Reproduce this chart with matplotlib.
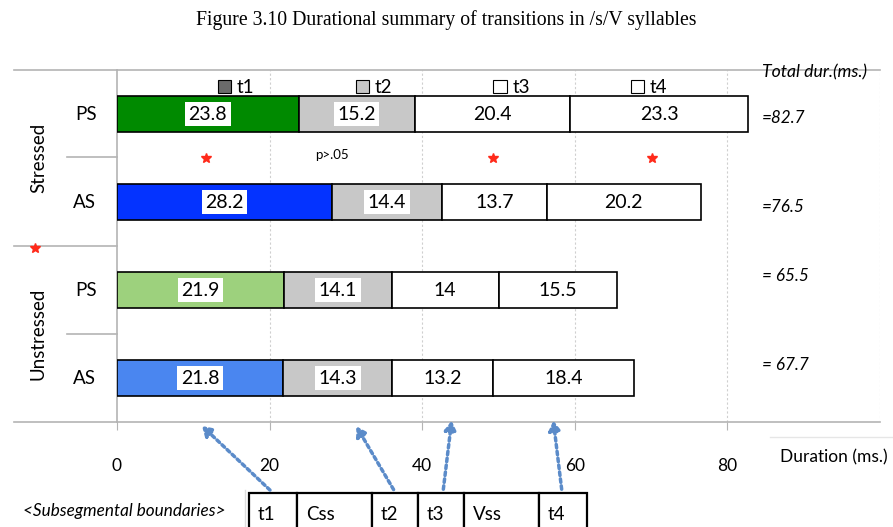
import matplotlib
matplotlib.use('Agg')
import matplotlib.pyplot as plt
from matplotlib.patches import Patch, Rectangle, FancyArrowPatch
from matplotlib.lines import Line2D

# ---------------- data ----------------
groups = ['Stressed', 'Unstressed']
categories = ['PS', 'AS', 'PS', 'AS']          # top to bottom
segments = ['t1', 't2', 't3', 't4']
t1 = [23.8, 28.2, 21.9, 21.8]
t2 = [15.2, 14.4, 14.1, 14.3]
t3 = [20.4, 13.7, 14, 13.2]
t4 = [23.3, 20.2, 15.5, 18.4]
totals = ['=82.7', '=76.5', '= 65.5', '= 67.7']
sig_x = [11.7, 49.3, 70.1]      # positions of significance stars
ns_x = 28.2                     # position of "p>.05"
xticks = [0, 20, 40, 60, 80]
boundary_labels = ['t1', 'Css', 't2', 't3', 'Vss', 't4']

# ---------------- style ----------------
t1_colors = ['#008a00', '#0433ff', '#9dd17d', '#4a86f0']
seg_colors = [None, '#c8c8c8', 'white', 'white']
legend_colors = ['#6b6b6b', '#c8c8c8', 'white', 'white']
total_dy = [-0.05, -0.06, 0.16, 0.15]
arrow_col = '#5b8bc9'
grey = '#b4b4b4'
SANS = 'Lato'

W, H = 893, 527
fig = plt.figure(figsize=(W / 100, H / 100), dpi=100)
L, R, T, B = 117, 880, 70, 422
ax = fig.add_axes([L / W, 1 - B / H, (R - L) / W, (B - T) / H])

def fx(x):
    return x / W

def fy(y):
    return 1 - y / H

ypos = [3, 2, 1, 0]
series = [t1, t2, t3, t4]
left = [0.0] * 4
for si, vals in enumerate(series):
    cols = t1_colors if si == 0 else [seg_colors[si]] * 4
    ax.barh(ypos, vals, left=left, height=0.4, color=cols,
            edgecolor='black', linewidth=1.2, zorder=3)
    for yi, v, l in zip(ypos, vals, left):
        ax.text(l + v / 2, yi, f'{v:g}', ha='center', va='center',
                fontsize=14, family=SANS, zorder=5,
                bbox=dict(boxstyle='square,pad=0.18', fc='white', ec='none'))
    left = [a + b for a, b in zip(left, vals)]

ax.set_xlim(0, 100)
ax.set_ylim(-0.5, 3.5)
ax.set_yticks([])
ax.set_xticks(xticks)
ax.set_xticklabels([str(t) for t in xticks], fontsize=12.5, family=SANS)
ax.tick_params(axis='x', length=6, color=grey, pad=20)
for x in xticks[1:] + [100]:
    ax.axvline(x, color='#cfcfcf', lw=0.8, ls=(0, (2, 2)), zorder=1)
ax.spines['right'].set_visible(False)
for s in ['top', 'bottom', 'left']:
    ax.spines[s].set_color(grey)
    ax.spines[s].set_linewidth(1.2)

# legend
handles = [Patch(facecolor=c, edgecolor='black', linewidth=0.8) for c in legend_colors]
ax.legend(handles, segments, loc='center', bbox_to_anchor=(0.427, 0.949), ncol=4,
          frameon=False, prop={'family': SANS, 'size': 13.5},
          handlelength=0.7, handleheight=0.7, handletextpad=0.3,
          columnspacing=5.4, borderpad=0)

# significance markers
ax.plot(sig_x, [2.5] * len(sig_x), ls='none', marker='*', color='#ff2a1a',
        markersize=7, zorder=4)
ax.text(ns_x, 2.53, 'p>.05', ha='center', va='center', fontsize=9.5, family=SANS)

# totals
ax.text(84.5, 3.47, 'Total dur.(ms.)', ha='left', va='center', fontsize=12.7,
        family=SANS, style='italic', clip_on=False)
for yi, tt, dy in zip(ypos, totals, total_dy):
    ax.text(84.5, yi + dy, tt, ha='left', va='center', fontsize=12.3,
            family=SANS, style='italic')

# left category axis
for y, x1 in [(T, 14), (B, 14), (246, 14), (157, 67), (334, 67)]:
    fig.add_artist(Line2D([fx(x1), fx(L)], [fy(y), fy(y)], color=grey, lw=1.2))
fig.add_artist(Line2D([fx(35)], [fy(248)], marker='*', color='#ff2a1a',
                      markersize=7, ls='none'))
for yi, cat in zip(ypos, categories):
    ax.text(-2.7, yi, cat, ha='right', va='center', fontsize=13.5, family=SANS,
            clip_on=False)
for gi, g in enumerate(groups):
    yc = 2.5 - 2 * gi
    ax.text(-10.3, yc, g, ha='center', va='center', rotation=90, fontsize=13.5,
            family=SANS, clip_on=False)

# x axis title
fig.text(fx(780), fy(457), 'Duration (ms.)', ha='left', va='center',
         fontsize=12.5, family=SANS)
fig.add_artist(Line2D([fx(770), fx(893)], [fy(437), fy(437)], color='#e6e6e6', lw=1))

# title
fig.text(0.5, fy(20), 'Figure 3.10 Durational summary of transitions in /s/V syllables',
         ha='center', va='center', fontsize=14.2, family='Liberation Serif')

# subsegmental boundaries
fig.text(fx(124), fy(511), '<Subsegmental boundaries>', ha='center', va='center',
         fontsize=12.3, family=SANS, style='italic')
fig.add_artist(Line2D([fx(245), fx(245)], [fy(490), fy(527)], color='#dddddd', lw=1))
edges = [249, 297, 372, 418, 464, 539, 587]
for i, lab in enumerate(boundary_labels):
    x0, x1 = edges[i], edges[i + 1]
    fig.add_artist(Rectangle((fx(x0), fy(530)), fx(x1 - x0), fy(493) - fy(530),
                             transform=fig.transFigure, fc='white', ec='black', lw=1.6))
    fig.text(fx(x0 + 9), fy(515), lab, ha='left', va='center', fontsize=13.5, family=SANS)

arrows = [((272, 492), (200, 424)), ((395, 492), (355, 424)),
          ((443, 492), (452, 418)), ((562, 492), (553, 418))]
for (x0, y0), (x1, y1) in arrows:
    fig.add_artist(FancyArrowPatch(
        (fx(x0), fy(y0)), (fx(x1), fy(y1)), transform=fig.transFigure,
        arrowstyle='-|>,head_length=4,head_width=2.5', mutation_scale=1.4,
        color=arrow_col, lw=2.5, ls=(0, (1, 1))))

fig.savefig('out.png', dpi=100)
